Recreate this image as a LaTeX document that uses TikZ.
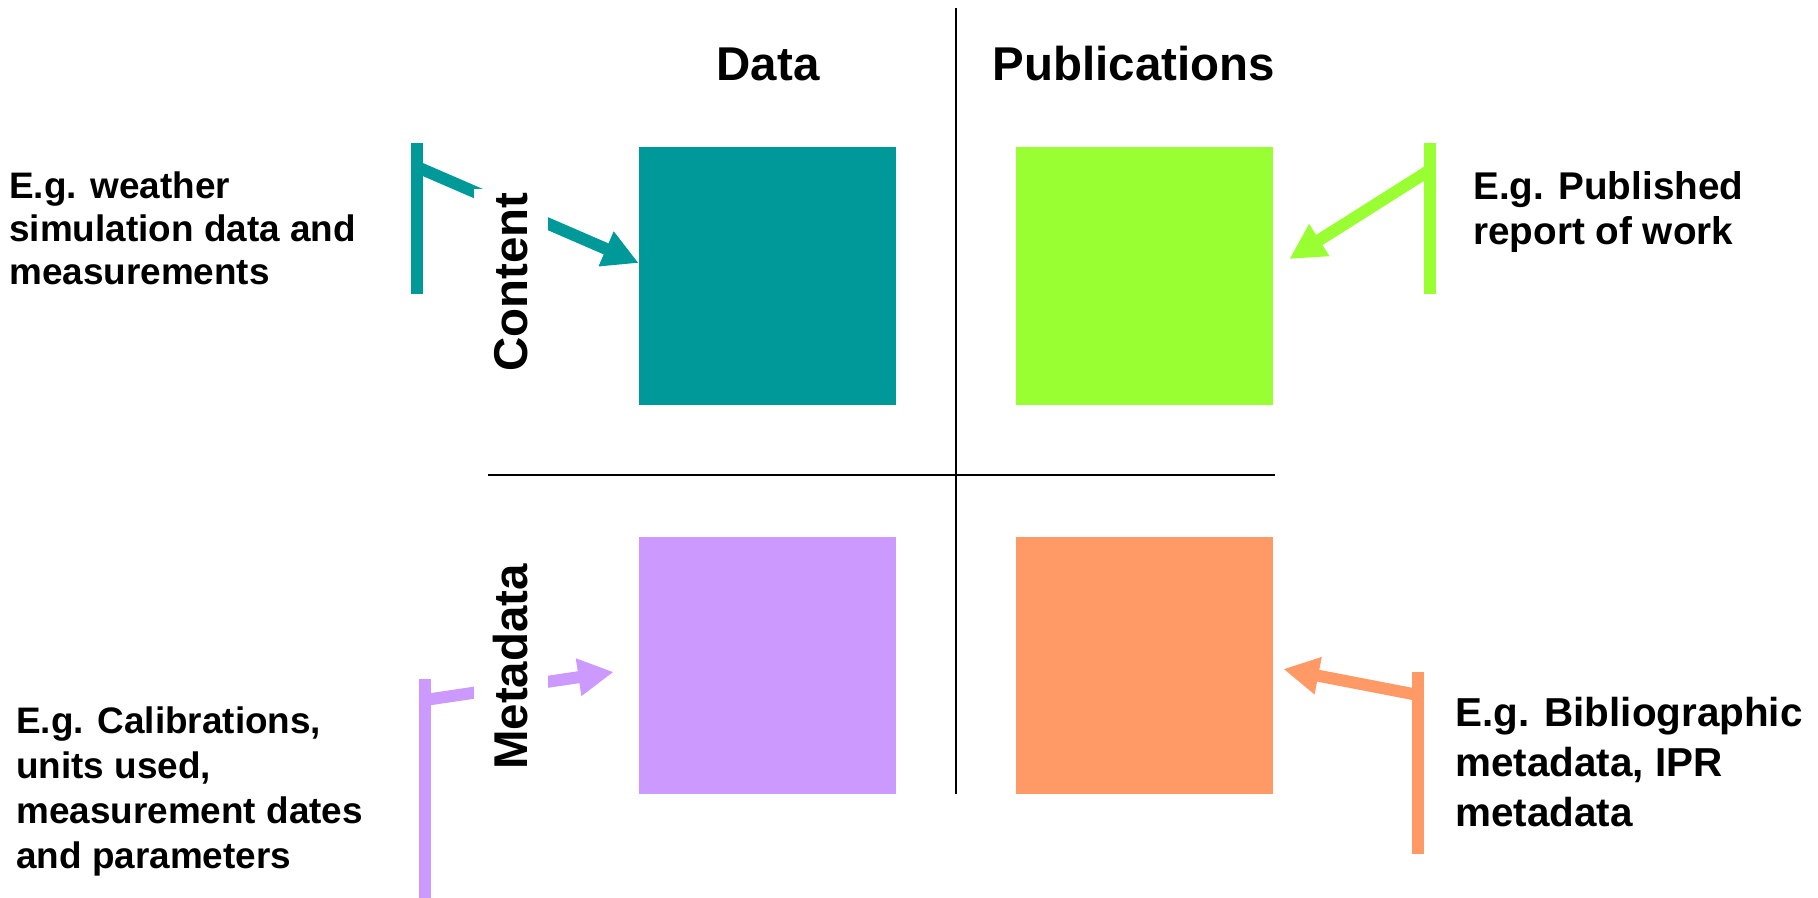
\documentclass[tikz,border=0pt]{standalone}
\usepackage{fontspec}
\setmainfont{Liberation Sans}
\usepackage{tikz}
\usetikzlibrary{arrows.meta,positioning}
\definecolor{dfteal}{RGB}{0,153,153}
\definecolor{dfgreen}{RGB}{153,255,51}
\definecolor{dflilac}{RGB}{204,153,255}
\definecolor{dforange}{RGB}{255,153,102}
\tikzstyle{quadbox} = [rectangle, minimum width=5.14cm, minimum height=5.16cm, inner sep=0pt]
\tikzstyle{header} = [font=\fontsize{27}{32}\selectfont\bfseries]
\tikzstyle{rowlabel} = [font=\fontsize{27}{32}\selectfont\bfseries, rotate=90, fill=white, inner xsep=2pt, inner ysep=0.4cm]
\tikzstyle{example} = [font=\fontsize{21}{24.5}\selectfont\bfseries, align=left, anchor=west, inner sep=0pt]
\tikzstyle{divider} = [line width=1.1pt]
\tikzstyle{bar} = [line width=0.24cm]
\tikzstyle{pointer} = [line width=0.24cm, -{Triangle[length=0.71cm,width=0.71cm]}]

\begin{document}
\begin{tikzpicture}[x=0.02cm, y=-0.02cm]
\useasboundingbox (0,0) rectangle (1818,898);

% Column headers
\node[header] (data) at (768,64) {Data};
\node[header] (pubs) at (1134,64) {Publications};

% Dividers
\coordinate (vtop) at (956,8);
\coordinate (vbot) at (956,794);
\coordinate (hleft) at (488,475);
\coordinate (hright) at (1275,475);
\draw[divider] (vtop) -- (vbot);
\draw[divider] (hleft) -- (hright);

% Quadrants
\node[quadbox, fill=dfteal] (datacontent) at (767.5,276) {};
\node[quadbox, fill=dfgreen] (pubcontent) at (1144.5,276) {};
\node[quadbox, fill=dflilac] (datameta) at (767.5,665.5) {};
\node[quadbox, fill=dforange] (pubmeta) at (1144.5,665.5) {};

% Brackets
\coordinate (tealtop) at (417,143);
\coordinate (tealbot) at (417,294);
\coordinate (tealfrom) at (417,167);
\coordinate (greentop) at (1430,143);
\coordinate (greenbot) at (1430,294);
\coordinate (greenfrom) at (1430,170);
\coordinate (lilactop) at (425,679);
\coordinate (lilacbot) at (425,898);
\coordinate (lilacfrom) at (425,700);
\coordinate (orangetop) at (1418,672);
\coordinate (orangebot) at (1418,854);
\coordinate (orangefrom) at (1418,695);
\draw[bar, dfteal] (tealtop) -- (tealbot);
\draw[bar, dfgreen] (greentop) -- (greenbot);
\draw[bar, dflilac] (lilactop) -- (lilacbot);
\draw[bar, dforange] (orangetop) -- (orangebot);

% Pointers
\draw[pointer, dfteal] (tealfrom) -- ([yshift=0.26cm]datacontent.west);
\draw[pointer, dfgreen] (greenfrom) -- ([xshift=0.32cm, yshift=0.34cm]pubcontent.east);
\draw[pointer, dflilac] (lilacfrom) -- ([xshift=-0.5cm, yshift=-0.13cm]datameta.west);
\draw[pointer, dforange] (orangefrom) -- ([xshift=0.2cm, yshift=-0.07cm]pubmeta.east);

% Row labels
\node[rowlabel] (content) at (511,282) {Content};
\node[rowlabel] (metadata) at (511,667) {Metadata};

% Examples
\node[example] (weather) at (9,228) {E.g. weather\\simulation data and\\measurements};
\node[example, font=\fontsize{22}{25.5}\selectfont\bfseries] (report) at (1473,212) {E.g. Published\\report of work};
\node[example, font=\fontsize{21}{25.6}\selectfont\bfseries] (calib) at (16,791) {E.g. Calibrations,\\units used,\\measurement dates\\and parameters};
\node[example, font=\fontsize{23}{28.3}\selectfont\bfseries] (biblio) at (1455,762) {E.g. Bibliographic\\metadata, IPR\\metadata};
\end{tikzpicture}
\end{document}
